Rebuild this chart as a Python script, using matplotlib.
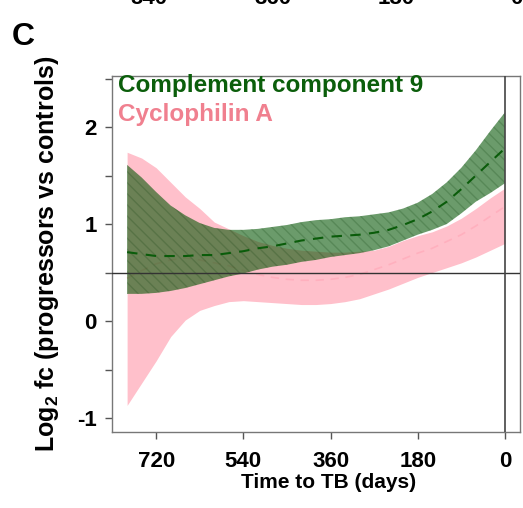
import matplotlib
matplotlib.use("Agg")
import matplotlib.pyplot as plt

plt.rcParams['font.family'] = ['Liberation Sans', 'DejaVu Sans']
plt.rcParams['font.weight'] = 'bold'
plt.rcParams['axes.labelweight'] = 'bold'
plt.rcParams['mathtext.fontset'] = 'custom'
plt.rcParams['mathtext.rm'] = 'Liberation Sans:bold'
plt.rcParams['mathtext.bf'] = 'Liberation Sans:bold'
plt.rcParams['hatch.linewidth'] = 1.0

days = [780, 750, 720, 690, 660, 630, 600, 570, 540, 510, 480, 450, 420, 390,
        360, 330, 300, 270, 240, 210, 180, 150, 120, 90, 60, 30, 0]

# Complement component 9 (green)
c9_upper = [1.61, 1.48, 1.33, 1.19, 1.09, 1.01, 0.96, 0.94, 0.94, 0.95, 0.97, 0.99, 1.02, 1.04,
            1.05, 1.07, 1.08, 1.10, 1.12, 1.16, 1.22, 1.31, 1.43, 1.58, 1.76, 1.96, 2.15]
c9_mean = [0.71, 0.69, 0.67, 0.67, 0.67, 0.68, 0.68, 0.70, 0.72, 0.75, 0.77, 0.80, 0.83, 0.85,
           0.87, 0.88, 0.89, 0.91, 0.94, 0.99, 1.05, 1.13, 1.23, 1.36, 1.50, 1.64, 1.78]
c9_lower = [0.28, 0.28, 0.29, 0.31, 0.34, 0.38, 0.42, 0.46, 0.49, 0.53, 0.56, 0.58, 0.61, 0.63,
            0.66, 0.68, 0.70, 0.73, 0.77, 0.83, 0.89, 0.94, 1.00, 1.11, 1.23, 1.32, 1.42]

# Cyclophilin A (pink)
cyp_upper = [1.74, 1.68, 1.58, 1.43, 1.28, 1.16, 1.02, 0.95, 0.88, 0.82, 0.78, 0.75, 0.73, 0.72,
             0.71, 0.71, 0.72, 0.73, 0.77, 0.83, 0.88, 0.92, 0.98, 1.06, 1.16, 1.27, 1.37]
cyp_mean = [0.44, 0.52, 0.59, 0.63, 0.65, 0.63, 0.60, 0.57, 0.52, 0.48, 0.45, 0.43, 0.42, 0.42,
            0.43, 0.45, 0.48, 0.53, 0.58, 0.64, 0.70, 0.75, 0.82, 0.89, 0.98, 1.08, 1.18]
cyp_lower = [-0.87, -0.64, -0.41, -0.16, 0.01, 0.11, 0.16, 0.20, 0.21, 0.20, 0.19, 0.18, 0.17, 0.17,
             0.18, 0.20, 0.23, 0.28, 0.33, 0.39, 0.45, 0.50, 0.55, 0.60, 0.66, 0.73, 0.80]

xticks = [720, 540, 360, 180, 0]
yticks = [-1, 0, 1, 2]
top_labels = ['540', '360', '180', '0']

W, H = 523, 508
fig = plt.figure(figsize=(W / 100, H / 100), dpi=100)
ax = fig.add_axes([112 / W, 1 - 432 / H, 408 / W, 356 / H])

ax.fill_between(days, cyp_lower, cyp_upper, color='#ffc0cb', linewidth=0, zorder=1)
ax.plot(days, cyp_mean, color='#ffb0be', linestyle=(0, (5, 4)), linewidth=1.2, zorder=2)
ax.fill_between(days, c9_lower, c9_upper, facecolor=(0.0, 0.33, 0.0, 0.58),
                edgecolor=(0.0, 0.2, 0.0, 0.18), hatch='\\\\\\', linewidth=0, zorder=3)
ax.plot(days, c9_mean, color='#0a5c0a', linestyle=(0, (5, 4)), linewidth=1.5, zorder=4)

ax.axhline(0.5, color='#333333', linewidth=1, zorder=5)
ax.axvline(0, color='#444444', linewidth=1.2, zorder=5)

ax.set_xlim(811.2, -31.2)
ax.set_ylim(-1.144, 2.526)
ax.set_xticks(xticks)
ax.set_xticklabels([str(v) for v in xticks])
ax.set_yticks(yticks)
ax.set_yticklabels([str(v) for v in yticks])
ax.set_yticks([-0.5, 0.5, 1.5, 2.5], minor=True)
ax.tick_params(axis='both', which='both', direction='out', length=5, width=1, color='#555555')
ax.tick_params(axis='x', labelsize=16, pad=9)
ax.tick_params(axis='y', labelsize=16, pad=6)
for s in ax.spines.values():
    s.set_color('#777777')
    s.set_linewidth(1)

ax.set_xlabel('Time to TB (days)', fontsize=15, fontweight='bold')
ax.xaxis.set_label_coords((329 - 112) / 408, -0.115)
ax.set_ylabel(r'Log$_{2}$ fc (progressors vs controls)', fontsize=18, fontweight='bold')
ax.yaxis.set_label_coords(-0.125, 0.5)

ax.text(0.015, 0.955, 'Complement component 9', transform=ax.transAxes, color='#0b5e0b',
        fontsize=17.5, va='baseline')
ax.text(0.015, 0.874, 'Cyclophilin A', transform=ax.transAxes, color='#f0808f',
        fontsize=17.5, va='baseline')

fig.text(12 / W, 1 - 45 / H, 'C', fontsize=23, va='baseline')
for lab, xp in zip(top_labels, [149, 273, 396, 516]):
    fig.text(xp / W, 1 - 4.5 / H, lab, fontsize=16, ha='center', va='baseline')

fig.savefig('out.png', dpi=100)
